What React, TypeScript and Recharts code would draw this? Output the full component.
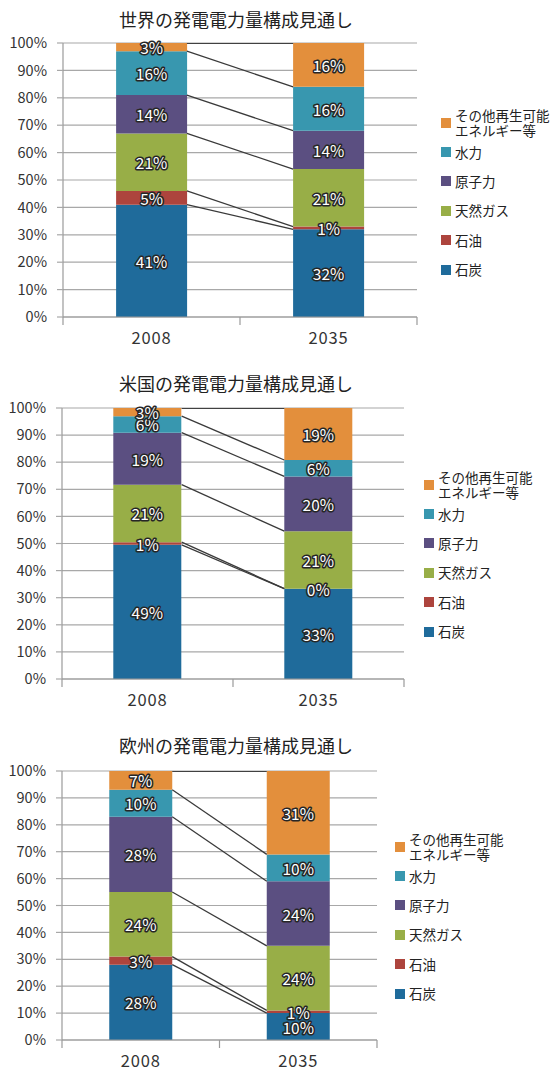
import React from 'react';
import { ComposedChart, Bar, XAxis, YAxis, CartesianGrid, Scatter, LabelList, Legend } from 'recharts';

const years = ['2008', '2035'];
const seriesKeys = ['coal', 'oil', 'gas', 'nuclear', 'hydro', 'other'];
const seriesNames = ['石炭', '石油', '天然ガス', '原子力', '水力', 'その他再生可能\nエネルギー等'];
const seriesColors = ['#1f6b9b', '#ad443d', '#98ae47', '#5b4f81', '#3897af', '#e38f3c'];
const percentTicks = [0, 0.1, 0.2, 0.3, 0.4, 0.5, 0.6, 0.7, 0.8, 0.9, 1];
const yearTicks = [0, 0.5, 1, 1.5, 2];

// shares in %, bottom to top: coal, oil, gas, nuclear, hydro, other
const world2008 = [41, 5, 21, 14, 16, 3];
const world2035 = [32, 1, 21, 14, 16, 16];
const us2008 = [49, 1, 21, 19, 6, 3];
const us2035 = [33, 0, 21, 20, 6, 19];
const europe2008 = [28, 3, 24, 28, 10, 7];
const europe2035 = [10, 1, 24, 24, 10, 31];

const BAR_GAP = 0.3; // barCategoryGap as fraction of band

const sum = (a: number[]) => a.reduce((s, v) => s + v, 0);
const cumShare = (vals: number[], k: number) => sum(vals.slice(0, k + 1)) / sum(vals);

const SegmentLabel = (props: any) => {
    const vb = props.viewBox ?? props;
    const x = Number(props.x ?? vb.x);
    const y = Number(props.y ?? vb.y);
    const w = Number(props.width ?? vb.width);
    const h = Number(props.height ?? vb.height);
    return (
        <text
            x={x + w / 2}
            y={y + h / 2}
            textAnchor="middle"
            dominantBaseline="central"
            fontSize={15.5}
            fill="#fff"
            stroke="#262626"
            strokeWidth={3}
            strokeLinejoin="round"
            style={{ paintOrder: 'stroke' }}
        >
            {props.value}%
        </text>
    );
};

const YearTick = (props: any) => {
    const { x, y, payload } = props;
    const v = payload.value;
    if (Number.isInteger(v)) {
        return <line x1={x} y1={y} x2={x} y2={y + 8} stroke="#9a9a9a" strokeWidth={1.2} />;
    }
    return (
        <text x={x} y={y + 27} textAnchor="middle" fontSize={16.5} letterSpacing={0.8} fill="#333">
            {years[Math.floor(v)]}
        </text>
    );
};

const LegendBox = () => (
    <div style={{ fontSize: 13.5, color: '#222' }}>
        {seriesKeys.map((_, i) => seriesKeys.length - 1 - i).map(i => (
            <div key={i} style={{ display: 'flex', alignItems: 'center', height: 29.4 }}>
                <span style={{ width: 10, height: 10, background: seriesColors[i], marginRight: 4, flexShrink: 0 }} />
                <span style={{ whiteSpace: 'pre-line', lineHeight: '15px' }}>{seriesNames[i]}</span>
            </div>
        ))}
    </div>
);

interface MixChartProps {
    title: string;
    v2008: number[];
    v2035: number[];
    height: number;
    top: number;
    right: number;
    bottom: number;
    yWidth: number;
    titleTop: number;
    legendLeft: number;
    legendTop: number;
}

const MixChart: React.FC<MixChartProps> = ({ title, v2008, v2035, height, top, right, bottom, yWidth, titleTop, legendLeft, legendTop }) => {
    const data = years.map((year, i) => {
        const vals = i === 0 ? v2008 : v2035;
        const row: Record<string, string | number> = { year };
        seriesKeys.forEach((k, j) => { row[k] = vals[j]; });
        return row;
    });

    // Excel-style series lines between the tops of each segment
    const seriesLines = seriesKeys.map((_, j) => [
        { x: 1 - BAR_GAP, y: cumShare(v2008, j) },
        { x: 1 + BAR_GAP, y: cumShare(v2035, j) },
    ]);

    return (
        <div style={{ position: 'relative', width: 559, height }}>
            <div style={{ position: 'absolute', top: titleTop, left: 0, width: 472, textAlign: 'center', fontSize: 18, lineHeight: '24px', color: '#222', zIndex: 1 }}>
                {title}
            </div>
            <ComposedChart
                width={559}
                height={height}
                data={data}
                stackOffset="expand"
                barCategoryGap={`${BAR_GAP * 100}%`}
                margin={{ top, right, bottom, left: 0 }}
            >
                <CartesianGrid vertical={false} stroke="#a8a8a8" strokeWidth={1.2} />
                <XAxis dataKey="year" hide height={0} />
                <XAxis
                    xAxisId="n"
                    type="number"
                    dataKey="x"
                    domain={[0, 2]}
                    allowDataOverflow
                    ticks={yearTicks}
                    interval={0}
                    height={30}
                    tickSize={0}
                    tickMargin={0}
                    tickLine={false}
                    axisLine={{ stroke: '#9a9a9a', strokeWidth: 1.2 }}
                    tick={<YearTick />}
                />
                <YAxis
                    type="number"
                    domain={[0, 1]}
                    allowDataOverflow
                    ticks={percentTicks}
                    interval={0}
                    width={yWidth}
                    tickSize={6}
                    tickMargin={10}
                    tickFormatter={(v: number) => `${Math.round(v * 100)}%`}
                    tick={{ fill: '#333', fontSize: 14.5 }}
                    axisLine={{ stroke: '#9a9a9a', strokeWidth: 1.2 }}
                    tickLine={{ stroke: '#a8a8a8', strokeWidth: 1.2 }}
                />
                {seriesKeys.map((k, j) => (
                    <Bar key={k} dataKey={k} stackId="s" fill={seriesColors[j]} minPointSize={0.01} isAnimationActive={false}>
                        <LabelList dataKey={k} content={<SegmentLabel />} />
                    </Bar>
                ))}
                {seriesLines.map((pts, j) => (
                    <Scatter
                        key={`line-${j}`}
                        xAxisId="n"
                        data={pts}
                        dataKey="y"
                        line={{ stroke: j === seriesLines.length - 1 ? '#111' : '#3a3a3a', strokeWidth: 1.3 }}
                        shape={() => <g />}
                        legendType="none"
                        isAnimationActive={false}
                    />
                ))}
                <Legend
                    layout="horizontal"
                    verticalAlign="middle"
                    align="center"
                    width={140}
                    wrapperStyle={{ left: legendLeft, top: legendTop }}
                    content={<LegendBox />}
                />
            </ComposedChart>
        </div>
    );
};

const App: React.FC = () => (
    <div style={{ position: 'absolute', left: 0, top: 0, width: 559, height: 1084, background: '#fff', fontFamily: "'Noto Sans CJK JP', sans-serif" }}>
        <MixChart title="世界の発電電力量構成見通し" v2008={world2008} v2035={world2035}
            height={362} top={43} right={142} bottom={15} yWidth={63}
            titleTop={7} legendLeft={441} legendTop={108} />
        <MixChart title="米国の発電電力量構成見通し" v2008={us2008} v2035={us2035}
            height={360} top={46} right={155} bottom={13} yWidth={62}
            titleTop={9} legendLeft={424} legendTop={108} />
        <MixChart title="欧州の発電電力量構成見通し" v2008={europe2008} v2035={europe2035}
            height={362} top={49} right={182} bottom={14} yWidth={62}
            titleTop={11} legendLeft={395} legendTop={110} />
    </div>
);

export default App;
